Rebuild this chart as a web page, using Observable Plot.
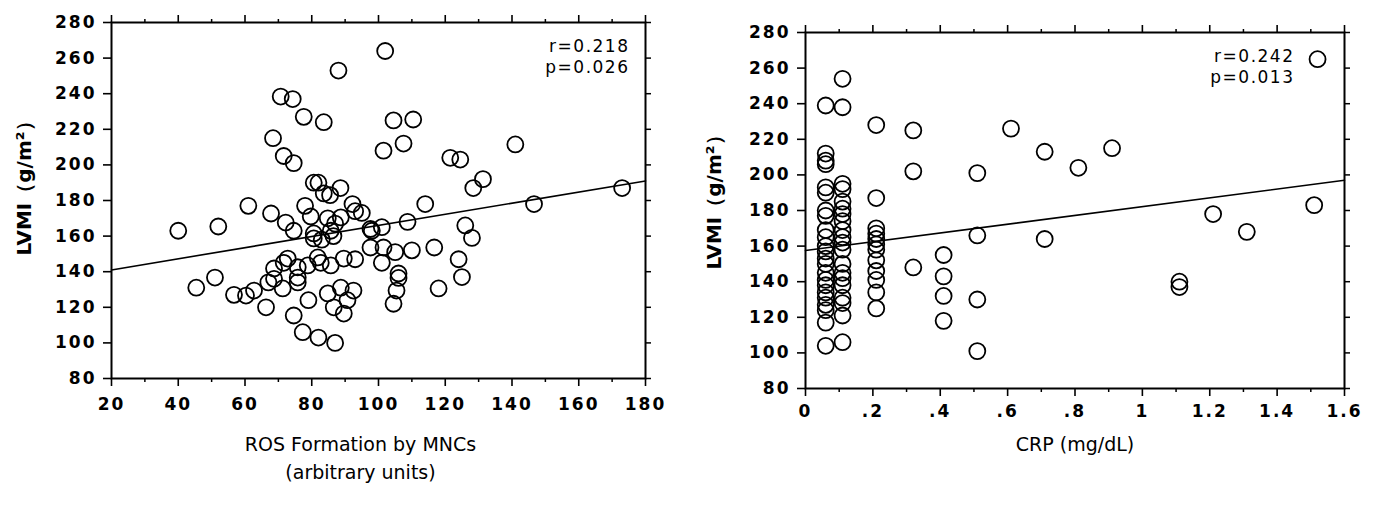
<!DOCTYPE html>
<html><head><meta charset="utf-8">
<script src="https://cdn.jsdelivr.net/npm/d3@7"></script>
<script src="https://cdn.jsdelivr.net/npm/@observablehq/plot@0.6"></script>
<style>
html,body{margin:0;padding:0;background:#fff;overflow:hidden}
#wrap{display:flex;width:1373px;height:505px}
#wrap svg{font-family:"DejaVu Sans",sans-serif;background:#fff;color:#000}
</style></head>
<body><div id="wrap"></div>
<script>
// ---- Left panel: ROS formation by MNCs vs LVMI ----
const rosX = [102,104.5,110.4,101.5,107.5,141,121.5,124.5,131.3,128.4,114,146.6,173,101,108.7,126,128,97.6,97.6,101.5,105,110,116.7,101,124,125,106,106,105.4,104.5,118,88,70.7,74.3,77.6,83.6,68.4,71.6,74.6,80.6,82,88.6,83.6,85.5,92.2,93,61,67.8,72.2,78,40,52,74.6,79.7,84.8,88.7,80.6,80.6,85.7,86.5,89.6,93,81.8,82.7,85.7,72.8,71.6,78.8,75.8,68.7,68.7,67,75.8,75.8,71.3,45.4,51,56.7,60.3,62.7,66.3,74.6,79,77.3,82,87,84.8,88.7,92.5,86.6,90.7,89.6,83,87,98,95];
const rosY = [264,225,225.5,208,212,211.5,204,203,192,187,178,178,187,165,168,166,159,164,153.6,153.6,151,152,153.6,145,147,137,139,136.5,129.4,122,130.6,253,238.4,237,227,224,215,205,201,190,190,187,184,183,178,174,177,172.7,167.6,177,163,165.4,163,171,170,170.5,161.5,158.7,163,160,147.4,147,148,145,143.5,147.4,145,143.5,142.5,141.8,136,134,136.7,134,130.6,131,136.7,127,126.6,129.4,120,115.4,124,106,103,100,127.8,131,129.4,120,124,116.5,158,167,163,173];
const rosLineX = [20,180];
const rosLineY = [141,191];
const rosTicks = [20,40,60,80,100,120,140,160,180];
const rosMinor = [30,50,70,90,110,130,150,170];
const rosTickLabels = ["20","40","60","80","100","120","140","160","180"];
const rosStats = "r=0.218\np=0.026";
const rosTitle = "ROS Formation by MNCs\n(arbitrary units)";

// ---- Right panel: CRP vs LVMI ----
const crpX = [
  0.06,0.06,0.06,0.06,0.06,0.06,0.06,0.06,0.06,0.06,0.06,0.06,0.06,0.06,0.06,0.06,0.06,0.06,0.06,0.06,0.06,0.06,0.06,
  0.11,0.11,0.11,0.11,0.11,0.11,0.11,0.11,0.11,0.11,0.11,0.11,0.11,0.11,0.11,0.11,0.11,0.11,0.11,0.11,
  0.21,0.21,0.21,0.21,0.21,0.21,0.21,0.21,0.21,0.21,0.21,0.21,
  0.32,0.32,0.32,0.41,0.41,0.41,0.41,0.51,0.51,0.51,0.51,0.61,0.71,0.71,0.81,0.91,1.11,1.11,1.21,1.31,1.51,1.52];
const crpY = [
  239,212,208,206,193,190,180,177,169,165,160,157,153,150,145,141,138,134,131,127,124,117,104,
  254,238,195,192,185,181,178,174,169,165,162,158,150,145,142,138,131,128,121,106,
  228,187,170,167,164,161,158,152,146,141,134,125,
  225,202,148,155,143,132,118,201,166,130,101,226,213,164,204,215,140,137,178,168,183,265];
const crpLineX = [0,1.6];
const crpLineY = [157.5,197];
const crpTicks = [0,0.2,0.4,0.6,0.8,1,1.2,1.4,1.6];
const crpMinor = [0.1,0.3,0.5,0.7,0.9,1.1,1.3,1.5];
const crpTickLabels = ["0",".2",".4",".6",".8","1","1.2","1.4","1.6"];
const crpStats = "r=0.242\np=0.013";
const crpTitle = "CRP (mg/dL)";

// ---- shared y ----
const yTicks = [80,100,120,140,160,180,200,220,240,260,280];
const yTickLabels = ["80","100","120","140","160","180","200","220","240","260","280"];
const yTitle = "LVMI（g/m²）";

function panel(cfg) {
  const idx = d3.range(cfg.xs.length);
  const lidx = d3.range(cfg.lineX.length);
  const xLab = new Map(cfg.ticks.map((t, i) => [t, cfg.tickLabels[i]]));
  const yLab = new Map(yTicks.map((t, i) => [t, yTickLabels[i]]));
  const blank = () => "";
  const svg = Plot.plot({
    width: cfg.width, height: 505,
    marginLeft: cfg.ml, marginRight: cfg.mr, marginTop: cfg.mt, marginBottom: cfg.mb,
    x: {domain: cfg.domain, axis: null},
    y: {domain: [80, 280], axis: null},
    marks: [
      Plot.axisY(yTicks, {anchor: "left", tickSize: 8, tickPadding: 7, strokeWidth: 1.6,
        tickFormat: d => yLab.get(d), label: null, fontSize: 17, fontWeight: "bold"}),
      Plot.axisY(yTicks, {anchor: "right", tickSize: 5, strokeWidth: 1.5, tickFormat: blank, label: null}),
      Plot.axisX(cfg.ticks, {anchor: "bottom", tickSize: 8, tickPadding: cfg.xPad, strokeWidth: 1.6,
        tickFormat: d => xLab.get(d), label: null, fontSize: 17, fontWeight: "bold"}),
      Plot.axisX(cfg.minor, {anchor: "bottom", tickSize: 4, strokeWidth: 1.5, tickFormat: blank, label: null}),
      Plot.axisX(cfg.ticks, {anchor: "top", tickSize: 8, strokeWidth: 1.6, tickFormat: blank, label: null}),
      Plot.axisX(cfg.minor, {anchor: "top", tickSize: 4, strokeWidth: 1.5, tickFormat: blank, label: null}),
      Plot.frame({stroke: "#000", strokeWidth: 2}),
      Plot.line(lidx, {x: i => cfg.lineX[i], y: i => cfg.lineY[i], stroke: "#000", strokeWidth: 1.6}),
      Plot.dot(idx, {x: i => cfg.xs[i], y: i => cfg.ys[i], r: 8, stroke: "#000", strokeWidth: 1.8, fill: "none"}),
      Plot.text([cfg.stats], {frameAnchor: "top-right", dx: cfg.statsDx, dy: cfg.statsDy, textAnchor: "end",
        lineAnchor: "top", lineHeight: 1.25, fontSize: 17, fill: "#000", className: "stats"}),
      Plot.text([cfg.title], {frameAnchor: "bottom", dx: cfg.titleDx, dy: cfg.titleDy, lineAnchor: "top", lineHeight: 1.45,
        fontSize: 19, fill: "#000", className: "xtitle"}),
      Plot.text([yTitle], {frameAnchor: "left", dx: cfg.yTitleDx, dy: cfg.yTitleDy, rotate: -90,
        textAnchor: "middle", lineAnchor: "middle", fontSize: 20, fontWeight: "bold", fill: "#000"})
    ]
  });
  d3.select(svg).selectAll("g[aria-label$='tick label'] text").attr("letter-spacing", "2px");
  d3.select(svg).selectAll(".stats text").attr("letter-spacing", "1.5px");
  return svg;
}

const wrap = document.getElementById("wrap");
wrap.appendChild(panel({
  width: 686, ml: 111, mr: 41, mt: 22, mb: 127, domain: [20, 180],
  xs: rosX, ys: rosY, lineX: rosLineX, lineY: rosLineY,
  ticks: rosTicks, minor: rosMinor, tickLabels: rosTickLabels, xPad: 11,
  stats: rosStats, statsDx: -16, statsDy: 14,
  title: rosTitle, titleDx: -18, titleDy: 53, yTitleDx: -87, yTitleDy: -17
}));
wrap.appendChild(panel({
  width: 687, ml: 119, mr: 29, mt: 32, mb: 117, domain: [0, 1.6],
  xs: crpX, ys: crpY, lineX: crpLineX, lineY: crpLineY,
  ticks: crpTicks, minor: crpMinor, tickLabels: crpTickLabels, xPad: 8,
  stats: crpStats, statsDx: -50, statsDy: 14,
  title: crpTitle, titleDx: 0, titleDy: 43, yTitleDx: -91, yTitleDy: -13
}));
</script>
</body></html>
